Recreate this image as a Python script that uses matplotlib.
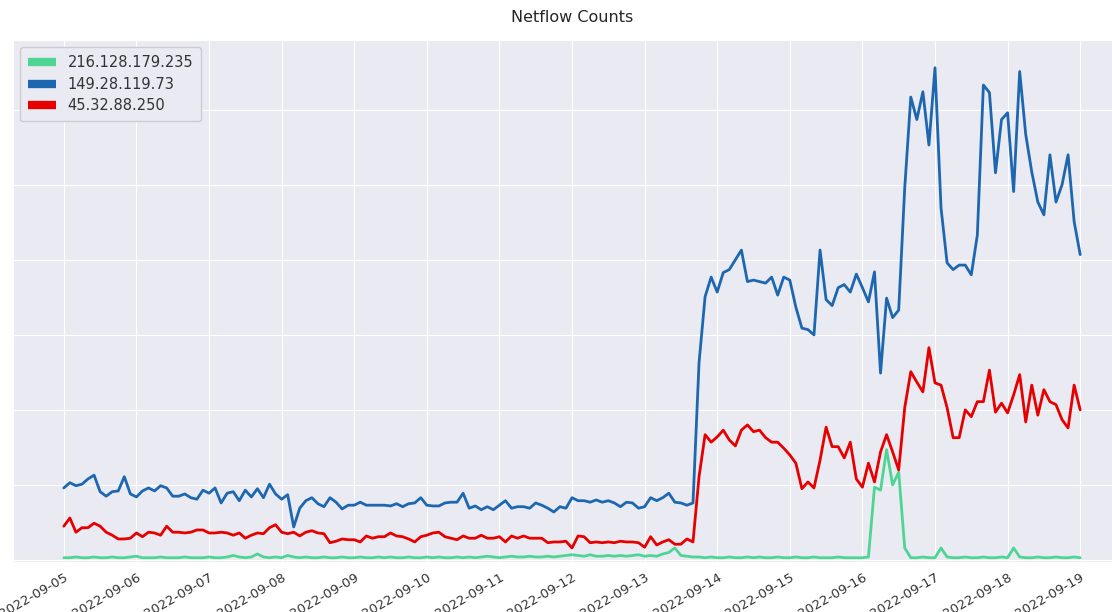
import matplotlib
matplotlib.use("Agg")
import matplotlib.pyplot as plt
import matplotlib.dates as mdates
import pandas as pd
import seaborn as sns

# ---- data (2-hour samples, 2022-09-05 00:00 .. 2022-09-19 00:00) ----
start = "2022-09-05 00:00"
n_points = 169
labels = ["216.128.179.235", "149.28.119.73", "45.32.88.250"]

green_216 = [
    3, 3, 4, 3, 3, 4, 3, 3, 4, 3,
    3, 4, 5, 3, 3, 3, 4, 3, 3, 3,
    4, 3, 3, 3, 4, 3, 3, 4, 6, 4,
    3, 4, 8, 4, 3, 4, 3, 6, 4, 3,
    4, 3, 3, 4, 3, 3, 4, 3, 3, 4,
    3, 3, 4, 3, 4, 3, 3, 4, 3, 3,
    4, 3, 4, 3, 3, 4, 3, 4, 3, 4,
    5, 4, 3, 4, 5, 4, 4, 5, 4, 4,
    5, 4, 5, 6, 7, 6, 5, 7, 5, 5,
    6, 5, 6, 5, 6, 7, 5, 6, 5, 8,
    10, 16, 6, 5, 4, 4, 3, 4, 3, 3,
    4, 3, 3, 4, 3, 4, 3, 3, 4, 3,
    3, 4, 3, 3, 4, 3, 3, 3, 4, 3,
    3, 3, 3, 4, 97, 93, 147, 100, 117, 16,
    3, 3, 4, 3, 3, 16, 4, 3, 3, 4,
    3, 3, 4, 3, 3, 4, 3, 16, 4, 3,
    3, 4, 3, 3, 4, 3, 3, 4, 3,
]

blue_149 = [
    96, 103, 99, 101, 108, 113, 91, 85, 91, 92,
    111, 88, 84, 92, 96, 92, 99, 96, 85, 85,
    88, 83, 81, 93, 89, 96, 76, 89, 91, 79,
    93, 84, 95, 83, 101, 88, 81, 87, 44, 69,
    79, 83, 75, 71, 83, 77, 68, 73, 73, 77,
    73, 73, 73, 73, 72, 75, 71, 75, 76, 83,
    73, 72, 72, 76, 77, 77, 89, 69, 72, 67,
    71, 67, 73, 79, 69, 71, 71, 69, 76, 73,
    69, 64, 71, 69, 83, 79, 79, 77, 80, 77,
    79, 76, 71, 77, 76, 69, 71, 83, 79, 83,
    89, 77, 76, 73, 76, 263, 351, 377, 357, 383,
    387, 400, 413, 371, 373, 371, 369, 377, 353, 377,
    373, 337, 309, 307, 300, 413, 347, 339, 363, 367,
    357, 381, 363, 344, 384, 249, 349, 323, 333, 496,
    617, 587, 624, 553, 656, 469, 396, 387, 393, 393,
    380, 433, 633, 623, 516, 587, 596, 491, 651, 567,
    517, 477, 460, 540, 477, 500, 540, 451, 407,
]

red_45 = [
    45, 56, 37, 43, 43, 49, 45, 37, 33, 28,
    28, 29, 36, 31, 37, 36, 33, 45, 37, 37,
    36, 37, 40, 40, 36, 36, 37, 36, 33, 36,
    29, 33, 36, 35, 43, 47, 37, 35, 37, 32,
    37, 39, 36, 35, 23, 25, 28, 27, 27, 24,
    32, 29, 31, 31, 36, 32, 31, 28, 24, 31,
    33, 36, 37, 31, 29, 27, 32, 29, 29, 33,
    29, 29, 31, 24, 32, 29, 32, 29, 29, 29,
    23, 24, 24, 25, 16, 32, 31, 23, 24, 23,
    24, 23, 25, 24, 24, 23, 17, 31, 20, 24,
    27, 21, 21, 28, 24, 111, 167, 157, 164, 173,
    160, 152, 173, 180, 171, 173, 163, 157, 157, 149,
    140, 129, 95, 104, 96, 133, 177, 151, 151, 136,
    157, 108, 97, 129, 104, 144, 167, 144, 120, 203,
    251, 237, 224, 283, 236, 233, 203, 163, 163, 200,
    191, 211, 211, 253, 197, 209, 196, 220, 247, 184,
    233, 193, 227, 211, 207, 187, 176, 233, 200,
]

colors = ["#4ed593", "#1c67b0", "#e60000"]
y_ticks = [0, 100, 200, 300, 400, 500, 600]

# ---- plotting ----
sns.set_style("darkgrid")
plt.rcParams["font.family"] = ["DejaVu Sans"]

times = pd.date_range(start, periods=n_points, freq="2h")

W, H = 1112, 612
fig = plt.figure(figsize=(W / 100, H / 100), dpi=100)
left_px, right_px, top_px, bottom_px = 13, 1131, 40, 562
ax = fig.add_axes([left_px / W, 1 - bottom_px / H,
                   (right_px - left_px) / W, (bottom_px - top_px) / H])

for series, lab, col in zip([green_216, blue_149, red_45], labels, colors):
    ax.plot(times, series, color=col, linewidth=2.0, label=lab)

ax.set_ylim(-2.7, 693)
ax.set_yticks(y_ticks)
ax.set_yticklabels([""] * len(y_ticks))
ax.xaxis.set_major_locator(mdates.DayLocator())
ax.xaxis.set_major_formatter(mdates.DateFormatter("%Y-%m-%d"))
ax.tick_params(axis="both", length=3, width=0.8, color="#555555", labelcolor="#333333")
for lbl in ax.get_xticklabels():
    lbl.set_rotation(30)
    lbl.set_ha("right")
    lbl.set_rotation_mode("anchor")
    lbl.set_fontsize(9.5)

leg = ax.legend(loc="upper left", fontsize=10.5, handlelength=1.9,
                borderpad=0.55, labelspacing=0.45, frameon=True,
                facecolor="#EAEAF2", edgecolor="#cccccc", framealpha=1.0)
for h in leg.get_lines():
    h.set_linewidth(6)
    h.set_solid_capstyle("butt")
for t in leg.get_texts():
    t.set_color("#333333")

fig.text(572 / W, 1 - 18 / H, "Netflow Counts", ha="center", va="center",
         fontsize=11.5, color="#262626")

fig.savefig("out.png", dpi=100)
